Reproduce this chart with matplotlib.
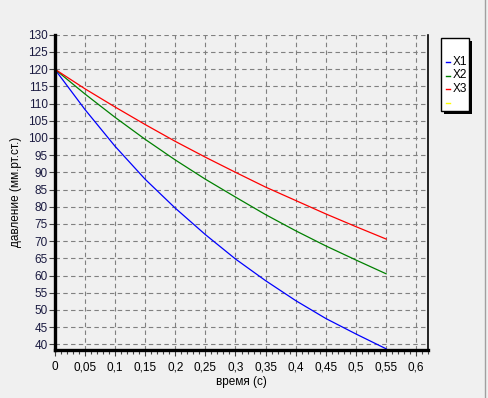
import matplotlib
matplotlib.use("Agg")
import matplotlib.pyplot as plt
from matplotlib.patches import Rectangle
from matplotlib.lines import Line2D
from matplotlib.ticker import MultipleLocator, FuncFormatter

plt.rcParams['font.family'] = ['Liberation Sans', 'DejaVu Sans']

t = [0.0, 0.05, 0.1, 0.15, 0.2, 0.25, 0.3, 0.35, 0.4, 0.45, 0.5, 0.55]
x1 = [120, 108.3, 97.6, 88.0, 79.6, 71.9, 64.8, 58.5, 52.7, 47.5, 43.0, 38.7]
x2 = [120, 112.8, 106.0, 99.6, 93.6, 88.0, 82.8, 77.7, 73.0, 68.6, 64.5, 60.5]
x3 = [120, 114.3, 109.0, 103.9, 99.0, 94.4, 90.0, 85.7, 81.8, 77.9, 74.2, 70.6]
series_names = ["X1", "X2", "X3", ""]
series_colors = ["#0000ff", "#008000", "#ff0000", "#ffff00"]

W, H = 488, 398
fig = plt.figure(figsize=(W / 100, H / 100), dpi=100, facecolor="#f0f0f0")
ax = fig.add_axes([54.7 / W, 1 - 350 / H, (428.3 - 54.7) / W, (350 - 34.7) / H])
ax.set_facecolor("#f0f0f0")

for ys, c in zip([x1, x2, x3], series_colors[:3]):
    ax.plot(t, ys, color=c, lw=0.9)

ax.set_xlim(0, 0.62)
ax.set_ylim(38.35, 130)
ax.xaxis.set_major_locator(MultipleLocator(0.05))
ax.xaxis.set_minor_locator(MultipleLocator(0.01))
ax.yaxis.set_major_locator(MultipleLocator(5))

def fmt_x(v, pos):
    s = f"{v:.2f}".rstrip("0").rstrip(".")
    return s.replace(".", ",")

ax.xaxis.set_major_formatter(FuncFormatter(fmt_x))
ax.yaxis.set_major_formatter(FuncFormatter(lambda v, p: f"{v:.0f}"))

ax.grid(True, which="major", color="#808080", linestyle=(0, (4, 3)), lw=0.8)
ax.set_axisbelow(True)
ax.spines["left"].set_linewidth(2.4)
ax.spines["bottom"].set_linewidth(2.4)
ax.spines["right"].set_linewidth(1.2)
ax.spines["top"].set_visible(False)
for s in ["left", "bottom", "right"]:
    ax.spines[s].set_color("black")

ax.tick_params(axis="both", which="major", direction="out", length=4, width=0.8,
               labelsize=8.5, color="#404040")
ax.tick_params(axis="x", which="minor", direction="out", length=3, width=0.8, color="#404040")
ax.tick_params(axis="x", pad=4)
ax.tick_params(axis="y", pad=1, labelcolor="#1a1a40")

ax.set_xlabel("время (с)", fontsize=8.5, labelpad=2)
ax.set_ylabel("давление (мм.рт.ст.)", fontsize=8.5, labelpad=4)

# legend box with shadow
lx0, ly0, lx1, ly1 = 441.3, 38.3, 468.7, 111
fig.add_artist(Rectangle(((lx0 + 3) / W, 1 - (ly1 + 3) / H), (lx1 - lx0) / W, (ly1 - ly0) / H,
                         transform=fig.transFigure, facecolor="black", edgecolor="black", lw=0))
fig.add_artist(Rectangle((lx0 / W, 1 - ly1 / H), (lx1 - lx0) / W, (ly1 - ly0) / H,
                         transform=fig.transFigure, facecolor="white", edgecolor="black", lw=1))
rows = [61.7, 75.5, 89.3, 103]
for name, c, yy in zip(series_names, series_colors, rows):
    fig.add_artist(Line2D([446 / W, 449.5 / W], [1 - yy / H, 1 - yy / H],
                          transform=fig.transFigure, color=c, lw=1))
    if name:
        fig.text(452.5 / W, 1 - yy / H, name, fontsize=8.5, va="center", ha="left")

# window border on right
fig.add_artist(Line2D([484.5 / W, 484.5 / W], [0, 1], transform=fig.transFigure,
                      color="#a0a0a0", lw=1))

fig.savefig("out.png", dpi=100, facecolor=fig.get_facecolor())
